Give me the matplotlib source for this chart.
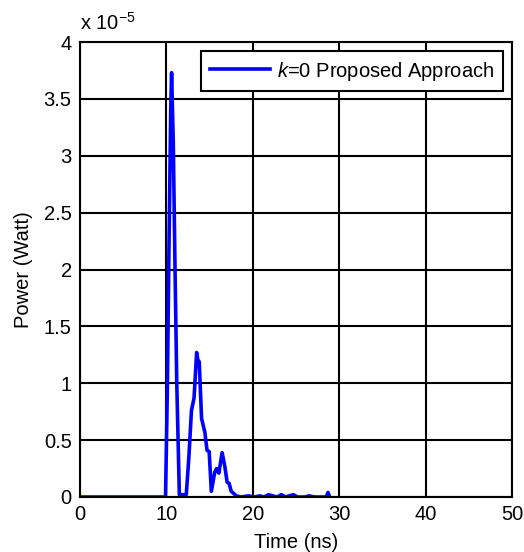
import numpy as np
import matplotlib.pyplot as plt
from matplotlib.ticker import FuncFormatter

plt.rcParams['font.family'] = ['Liberation Sans', 'DejaVu Sans']
plt.rcParams['mathtext.fontset'] = 'custom'
plt.rcParams['mathtext.rm'] = 'Liberation Sans'
plt.rcParams['mathtext.it'] = 'Liberation Sans:italic'

# Werte (Leistung in 1e-5 W)
time_ns = [0, 9.9, 10.1, 10.3, 10.5, 10.6, 10.8, 11.0, 11.2, 11.5, 12.3,
           12.6, 12.9, 13.2, 13.5, 13.65, 13.8, 14.07, 14.45, 14.7, 14.95,
           15.2, 15.6, 15.8, 16.07, 16.45, 16.76, 17.03, 17.26, 17.5, 18.1,
           18.6, 19.5, 20.2, 20.8, 21.3, 21.8, 22.3, 22.8, 23.3, 23.8,
           24.2, 24.7, 25.2, 26.0, 26.5, 27.2, 28.0, 28.5, 28.7, 28.9]
power = [0, 0, 0.9, 2.2, 3.4, 3.73, 3.1, 2.0, 1.0, 0.02, 0.02,
         0.35, 0.76, 0.87, 1.27, 1.2, 1.19, 0.69, 0.57, 0.41, 0.40,
         0.05, 0.22, 0.25, 0.21, 0.39, 0.27, 0.13, 0.12, 0.05, 0.01,
         0.0, 0.01, 0.0, 0.01, 0.0, 0.02, 0.01, 0.0, 0.02, 0.0,
         0.01, 0.02, 0.0, 0.0, 0.01, 0.0, 0.0, 0.0, 0.04, 0.0]

scale = 1e-5
fs = 14.5

fig = plt.figure(figsize=(5.24, 5.52), dpi=100)
ax = fig.add_axes([80 / 524, 1 - 497 / 552, 432 / 524, 455 / 552])

ax.plot(time_ns, np.array(power) * scale, color='#0000ff', lw=2.6,
        label='$k$=0 Proposed Approach', solid_joinstyle='round')

ax.set_xlim(0, 50)
ax.set_ylim(0, 4e-5)
ax.set_xticks(np.arange(0, 51, 10))
ax.set_yticks(np.arange(0, 4.01, 0.5) * scale)
ax.yaxis.set_major_formatter(FuncFormatter(lambda v, p: f"{v / scale:g}"))
ax.grid(True, color='black', lw=1.5, ls='-')
ax.set_axisbelow(True)
for s in ax.spines.values():
    s.set_linewidth(1.5)
ax.tick_params(direction='in', length=0, labelsize=fs, pad=6)

ax.set_xlabel('Time (ns)', fontsize=fs, labelpad=6)
ax.set_ylabel('Power (Watt)', fontsize=fs, labelpad=8)
fig.text(80 / 524, 1 - 30 / 552, 'x 10$^{-5}$', fontsize=fs, ha='left',
         va='baseline')

leg = ax.legend(loc='upper right', fontsize=fs, fancybox=False,
                framealpha=1, edgecolor='black', borderaxespad=0.45,
                handlelength=3.0, handletextpad=0.35, borderpad=0.42)
leg.get_frame().set_linewidth(1.5)

fig.savefig('out.png', dpi=100)
